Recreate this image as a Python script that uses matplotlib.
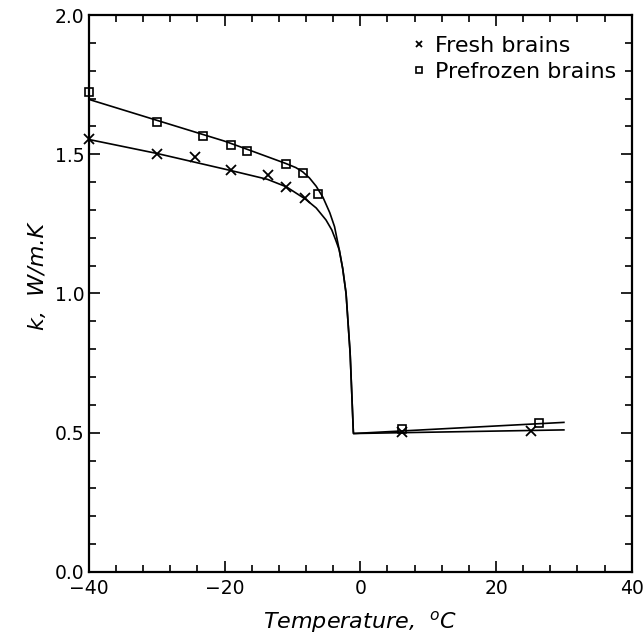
import matplotlib
matplotlib.use("Agg")
import matplotlib.pyplot as plt
from matplotlib.ticker import MultipleLocator, FormatStrFormatter

# measured points
fresh_T = [-40.0, -29.9, -24.3, -19.1, -13.6, -10.9, -8.1, 6.2, 25.1]
fresh_k = [1.555, 1.501, 1.489, 1.443, 1.425, 1.383, 1.342, 0.504, 0.507]
froz_T = [-40.0, -29.9, -23.2, -19.0, -16.7, -11.0, -8.5, -6.2, 6.2, 26.3]
froz_k = [1.725, 1.616, 1.566, 1.532, 1.512, 1.464, 1.432, 1.357, 0.512, 0.533]

# fitted curves (traced)
fresh_fit_T = [-40.0, -30.0, -19.0, -13.7, -10.9, -8.1, -6.5, -5.06, -4.2,
               -3.6, -3.1, -2.6, -2.1, -1.5, -1.03, -1.0, 30.0]
fresh_fit_k = [1.553, 1.503, 1.441, 1.410, 1.383, 1.339, 1.307, 1.264, 1.228,
               1.190, 1.156, 1.090, 1.000, 0.785, 0.504, 0.497, 0.510]
froz_fit_T = [-40.0, -30.0, -20.0, -16.7, -11.0, -9.5, -8.5, -7.5, -6.5,
              -5.5, -4.5, -3.8, -3.1, -2.6, -2.1, -1.5, -1.03, -1.0, 30.0]
froz_fit_k = [1.697, 1.622, 1.547, 1.518, 1.467, 1.452, 1.437, 1.415, 1.385,
              1.345, 1.290, 1.240, 1.156, 1.090, 1.000, 0.785, 0.504, 0.497,
              0.537]

plt.rcParams.update({
    "font.family": "DejaVu Sans",
    "font.size": 13,
})

fig = plt.figure(figsize=(6.44, 6.39), dpi=100)
ax = fig.add_axes([0.138, 0.105, 0.843, 0.8715])

ax.plot(fresh_fit_T, fresh_fit_k, color="black", lw=1.2)
ax.plot(froz_fit_T, froz_fit_k, color="black", lw=1.2)
ax.plot(fresh_T, fresh_k, ls="none", marker="x", ms=7, mew=1.3,
        color="black", label="Fresh brains", clip_on=False)
ax.plot(froz_T, froz_k, ls="none", marker="s", ms=6, mew=1.2,
        mfc="none", mec="black", label="Prefrozen brains", clip_on=False)

ax.set_xlim(-40, 40)
ax.set_ylim(0, 2.0)
ax.xaxis.set_major_locator(MultipleLocator(20))
ax.xaxis.set_minor_locator(MultipleLocator(4))
ax.yaxis.set_major_locator(MultipleLocator(0.5))
ax.yaxis.set_minor_locator(MultipleLocator(0.1))
ax.yaxis.set_major_formatter(FormatStrFormatter("%.1f"))
ax.tick_params(which="both", direction="in", top=True, right=True,
               labelsize=13.5, width=1.2)
ax.tick_params(which="major", length=8, pad=3)
ax.tick_params(axis="x", which="major", pad=5)
ax.tick_params(which="minor", length=5)
for s in ax.spines.values():
    s.set_linewidth(1.6)

ax.set_xlabel("Temperature,  $^{o}$C", fontsize=16, style="italic",
              labelpad=8)
ax.set_ylabel("k,  W/m.K", fontsize=16, style="italic", labelpad=6)
ax.yaxis.set_label_coords(-0.075, 0.53)

ax.legend(loc="upper right", bbox_to_anchor=(1.0, 0.99), frameon=False,
          fontsize=16, handlelength=0.5, handletextpad=0.45,
          labelspacing=0.25, borderaxespad=0.3, markerscale=0.7)

fig.savefig("out.png", dpi=100)
